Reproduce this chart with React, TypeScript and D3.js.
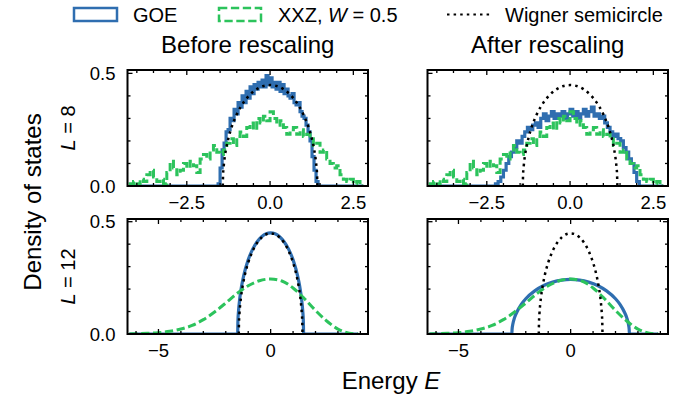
import React from "react";
import * as d3 from "d3";

// ---------------- DATA ----------------
// energy window covered by the histograms (baseline extent)
const topDataRange = [-4.2, 2.8];
const bottomDataRange = [-6.3, 3.9];

// L = 8, GOE, before rescaling (step histogram)
const goeL8Start = -1.56;
const goeL8Bin = 0.06;
const goeL8 = [0.01, 0.08, 0.16, 0.19, 0.24, 0.25, 0.3, 0.29, 0.34, 0.32, 0.37, 0.35, 0.4, 0.37, 0.42, 0.39, 0.44, 0.41, 0.45, 0.43, 0.46, 0.44, 0.47, 0.44, 0.49, 0.45, 0.48, 0.44, 0.46, 0.43, 0.46, 0.42, 0.45, 0.41, 0.43, 0.4, 0.39, 0.41, 0.37, 0.36, 0.37, 0.33, 0.31, 0.3, 0.27, 0.24, 0.2, 0.13, 0.07, 0.02, 0.0];

// L = 8, GOE, after rescaling
const goeL8ResStart = -2.24;
const goeL8ResBin = 0.08;
const goeL8Rescaled = [0.01, 0.02, 0.04, 0.07, 0.1, 0.13, 0.15, 0.17, 0.2, 0.19, 0.22, 0.24, 0.26, 0.25, 0.27, 0.28, 0.26, 0.3, 0.32, 0.29, 0.31, 0.33, 0.3, 0.32, 0.31, 0.33, 0.3, 0.32, 0.34, 0.31, 0.33, 0.3, 0.32, 0.34, 0.31, 0.33, 0.35, 0.31, 0.32, 0.3, 0.31, 0.28, 0.26, 0.24, 0.22, 0.23, 0.21, 0.2, 0.17, 0.15, 0.12, 0.1, 0.06, 0.02, 0.0];

// L = 8, XXZ W = 0.5
const xxzL8Start = -4.2;
const xxzL8Bin = 0.1;
const xxzL8 = [0.01, 0.02, 0.01, 0.03, 0.02, 0.05, 0.07, 0.04, 0.02, 0.03, 0.01, 0.06, 0.11, 0.08, 0.05, 0.07, 0.1, 0.08, 0.11, 0.09, 0.06, 0.12, 0.14, 0.12, 0.16, 0.18, 0.15, 0.14, 0.16, 0.19, 0.21, 0.18, 0.22, 0.24, 0.22, 0.26, 0.28, 0.25, 0.3, 0.28, 0.31, 0.29, 0.33, 0.3, 0.27, 0.29, 0.26, 0.23, 0.25, 0.26, 0.23, 0.25, 0.22, 0.23, 0.21, 0.18, 0.19, 0.15, 0.16, 0.12, 0.1, 0.08, 0.09, 0.05, 0.03, 0.02, 0.03, 0.01, 0.02, 0.0];

// L = 12, GOE before rescaling
const goeL12E = [-6.3, -1.47, -1.46, -1.43, -1.38, -1.3, -1.2, -1.0, -0.8, -0.6, -0.4, -0.2, 0, 0.2, 0.4, 0.6, 0.8, 1.0, 1.2, 1.3, 1.38, 1.43, 1.46, 1.47, 3.9];
const goeL12Rho = [0, 0, 0.052, 0.104, 0.155, 0.21, 0.26, 0.33, 0.378, 0.411, 0.433, 0.446, 0.45, 0.446, 0.433, 0.411, 0.378, 0.33, 0.26, 0.21, 0.155, 0.104, 0.052, 0, 0];

// L = 12, GOE after rescaling
const goeL12ResE = [-6.3, -2.62, -2.61, -2.58, -2.5, -2.4, -2.2, -2.0, -1.6, -1.2, -0.8, -0.4, 0, 0.4, 0.8, 1.2, 1.6, 2.0, 2.2, 2.4, 2.5, 2.58, 2.61, 2.62, 3.9];
const goeL12ResRho = [0, 0, 0.021, 0.042, 0.073, 0.097, 0.132, 0.157, 0.192, 0.216, 0.231, 0.24, 0.243, 0.24, 0.231, 0.216, 0.192, 0.157, 0.132, 0.097, 0.073, 0.042, 0.021, 0, 0];

// L = 12, XXZ W = 0.5
const xxzL12E = [-6.3, -6.0, -5.5, -5.0, -4.5, -4.0, -3.5, -3.0, -2.5, -2.0, -1.5, -1.0, -0.5, 0.0, 0.5, 1.0, 1.5, 2.0, 2.5, 3.0, 3.5, 3.9];
const xxzL12Rho = [0, 0.001, 0.003, 0.006, 0.012, 0.022, 0.038, 0.064, 0.098, 0.138, 0.18, 0.215, 0.237, 0.245, 0.236, 0.205, 0.158, 0.105, 0.058, 0.022, 0.004, 0];

// Wigner semicircle
const wignerE = [-1.42, -1.41, -1.39, -1.36, -1.32, -1.25, -1.15, -1.0, -0.8, -0.6, -0.4, -0.2, 0, 0.2, 0.4, 0.6, 0.8, 1.0, 1.15, 1.25, 1.32, 1.36, 1.39, 1.41, 1.42];
const wignerRho = [0, 0.053, 0.091, 0.129, 0.165, 0.212, 0.263, 0.318, 0.37, 0.406, 0.43, 0.444, 0.448, 0.444, 0.43, 0.406, 0.37, 0.318, 0.263, 0.212, 0.165, 0.129, 0.091, 0.053, 0];

// axes
const topXDomain = [-4.28, 2.94];
const bottomXDomain = [-6.38, 4.34];
const yDomainTop = [0, 0.515];
const yDomainBottom = [0, 0.512];
const topMajorX = [-2.5, 0, 2.5];
const topMinorX = [-4, -3.5, -3, -2, -1.5, -1, -0.5, 0.5, 1, 1.5, 2];
const bottomMajorX = [-5, 0];
const bottomMinorX = [-6, -4, -3, -2, -1, 1, 2, 3, 4];
const majorY = [0, 0.5];
const minorY = [0.1, 0.2, 0.3, 0.4];
const titles = ["Before rescaling", "After rescaling"];
const rowLabels = ["8", "12"];

// ---------------- STYLE ----------------
const FONT = "'Liberation Sans', Arial, Helvetica, sans-serif";
const BLUE = "#2f6eb0";
const GREEN = "#2cc35c";
const TICK_FS = 18.5;

type Series =
  | { kind: "hist"; start: number; bin: number; values: number[]; range: number[]; color: string; dash?: string; width: number }
  | { kind: "curve"; E: number[]; rho: number[]; color: string; dash?: string; width: number };

function histPoints(s: { start: number; bin: number; values: number[]; range: number[] }): [number, number][] {
  const n = s.values.length;
  const pts: [number, number][] = [[s.range[0], 0], [s.start, 0]];
  s.values.forEach((v, i) => pts.push([s.start + i * s.bin, v]));
  const end = s.start + n * s.bin;
  pts.push([end, s.values[n - 1]]);
  pts.push([end, 0]);
  pts.push([s.range[1], 0]);
  return pts;
}

function Panel(props: {
  id: string; x0: number; x1: number; y0: number; y1: number;
  xDomain: number[]; yDomain: number[]; majorX: number[]; minorX: number[];
  fmtX: (v: number) => string; showY: boolean; series: Series[];
}) {
  const { id, x0, x1, y0, y1 } = props;
  const xs = d3.scaleLinear().domain(props.xDomain).range([x0, x1]);
  const ys = d3.scaleLinear().domain(props.yDomain).range([y1, y0]);
  const majL = 5, minL = 3;
  const paths = props.series.map((s, i) => {
    let d: string | null;
    if (s.kind === "hist") {
      d = d3.line<[number, number]>().x(p => xs(p[0])).y(p => ys(p[1])).curve(d3.curveStepAfter)(histPoints(s));
    } else {
      const pts = s.E.map((e, k) => [e, s.rho[k]] as [number, number]);
      d = d3.line<[number, number]>().x(p => xs(p[0])).y(p => ys(p[1])).curve(d3.curveMonotoneX)(pts);
    }
    return (
      <path key={i} d={d || ""} fill="none" stroke={s.color} strokeWidth={s.width}
        strokeDasharray={s.dash} strokeLinecap="butt" strokeLinejoin="miter" />
    );
  });
  const tickStroke = { stroke: "#000", strokeWidth: 1.3 };
  return (
    <g>
      <defs>
        <clipPath id={id}><rect x={x0} y={y0} width={x1 - x0} height={y1 - y0} /></clipPath>
      </defs>
      <g clipPath={`url(#${id})`}>{paths}</g>
      {props.majorX.map(v => (
        <g key={"mx" + v}>
          <line x1={xs(v)} x2={xs(v)} y1={y1} y2={y1 - majL} {...tickStroke} />
          <line x1={xs(v)} x2={xs(v)} y1={y0} y2={y0 + majL} {...tickStroke} />
          <text x={xs(v)} y={y1 + 23} textAnchor="middle" fontSize={TICK_FS} fontFamily={FONT}>{props.fmtX(v)}</text>
        </g>
      ))}
      {props.minorX.map(v => (
        <g key={"nx" + v}>
          <line x1={xs(v)} x2={xs(v)} y1={y1} y2={y1 - minL} {...tickStroke} />
          <line x1={xs(v)} x2={xs(v)} y1={y0} y2={y0 + minL} {...tickStroke} />
        </g>
      ))}
      {majorY.map(v => (
        <g key={"my" + v}>
          <line x1={x0} x2={x0 + majL} y1={ys(v)} y2={ys(v)} {...tickStroke} />
          <line x1={x1} x2={x1 - majL} y1={ys(v)} y2={ys(v)} {...tickStroke} />
          {props.showY && (
            <text x={x0 - 12} y={ys(v) + 6.5} textAnchor="end" fontSize={TICK_FS} fontFamily={FONT}>{d3.format(".1f")(v)}</text>
          )}
        </g>
      ))}
      {minorY.map(v => (
        <g key={"ny" + v}>
          <line x1={x0} x2={x0 + minL} y1={ys(v)} y2={ys(v)} {...tickStroke} />
          <line x1={x1} x2={x1 - minL} y1={ys(v)} y2={ys(v)} {...tickStroke} />
        </g>
      ))}
      <rect x={x0} y={y0} width={x1 - x0} height={y1 - y0} fill="none" stroke="#000" strokeWidth={2} />
    </g>
  );
}

const fmtTop = (v: number) => (v < 0 ? "\u2212" : "") + d3.format(".1f")(Math.abs(v));
const fmtBottom = (v: number) => (v < 0 ? "\u2212" : "") + d3.format("d")(Math.abs(v));

export default function App() {
  const dotted = "2.5 4.1";
  const dashed = "8.3 3.6";
  const wigner: Series = { kind: "curve", E: wignerE, rho: wignerRho, color: "#000", dash: dotted, width: 2.5 };
  const xxzTop: Series = { kind: "hist", start: xxzL8Start, bin: xxzL8Bin, values: xxzL8, range: topDataRange, color: GREEN, dash: dashed, width: 3 };
  const xxzBottom: Series = { kind: "curve", E: xxzL12E, rho: xxzL12Rho, color: GREEN, dash: dashed, width: 3 };

  const L = { x0: 127.5, x1: 368 };
  const R = { x0: 427.5, x1: 668 };
  const T = { y0: 70, y1: 186 };
  const B = { y0: 219, y1: 334 };

  return (
    <svg width={695} height={397} style={{ position: "absolute", left: 0, top: 0, background: "#fff" }} fontFamily={FONT}>
      <rect width={695} height={397} fill="#fff" />
      {/* legend */}
      <rect x={74} y={8} width={43} height={13} fill="none" stroke={BLUE} strokeWidth={2.5} />
      <text x={133} y={21.5} fontSize={20}>GOE</text>
      <rect x={219} y={8} width={42} height={13} fill="none" stroke={GREEN} strokeWidth={2.5} strokeDasharray={dashed} />
      <text x={278} y={21.5} fontSize={20}>XXZ, <tspan fontStyle="italic">W</tspan> = 0.5</text>
      <line x1={447} x2={490} y1={14.5} y2={14.5} stroke="#000" strokeWidth={2.2} strokeDasharray={dotted} />
      <text x={505} y={21.5} fontSize={20}>Wigner semicircle</text>

      {/* column titles */}
      <text x={(L.x0 + L.x1) / 2} y={53} textAnchor="middle" fontSize={24}>{titles[0]}</text>
      <text x={(R.x0 + R.x1) / 2} y={53} textAnchor="middle" fontSize={24}>{titles[1]}</text>

      <Panel id="cTL" {...L} {...T} xDomain={topXDomain} yDomain={yDomainTop} majorX={topMajorX} minorX={topMinorX} fmtX={fmtTop} showY={true}
        series={[{ kind: "hist", start: goeL8Start, bin: goeL8Bin, values: goeL8, range: topDataRange, color: BLUE, width: 3.2 }, xxzTop, wigner]} />
      <Panel id="cTR" {...R} {...T} xDomain={topXDomain} yDomain={yDomainTop} majorX={topMajorX} minorX={topMinorX} fmtX={fmtTop} showY={false}
        series={[{ kind: "hist", start: goeL8ResStart, bin: goeL8ResBin, values: goeL8Rescaled, range: topDataRange, color: BLUE, width: 3.2 }, xxzTop, wigner]} />
      <Panel id="cBL" {...L} {...B} xDomain={bottomXDomain} yDomain={yDomainBottom} majorX={bottomMajorX} minorX={bottomMinorX} fmtX={fmtBottom} showY={true}
        series={[{ kind: "curve", E: goeL12E, rho: goeL12Rho, color: BLUE, width: 3.2 }, xxzBottom, wigner]} />
      <Panel id="cBR" {...R} {...B} xDomain={bottomXDomain} yDomain={yDomainBottom} majorX={bottomMajorX} minorX={bottomMinorX} fmtX={fmtBottom} showY={false}
        series={[{ kind: "curve", E: goeL12ResE, rho: goeL12ResRho, color: BLUE, width: 3.2 }, xxzBottom, wigner]} />

      {/* row labels */}
      <text transform={`translate(75,${(T.y0 + T.y1) / 2}) rotate(-90)`} textAnchor="middle" fontSize={20}>
        <tspan fontStyle="italic">L</tspan> = {rowLabels[0]}
      </text>
      <text transform={`translate(75,${(B.y0 + B.y1) / 2}) rotate(-90)`} textAnchor="middle" fontSize={20}>
        <tspan fontStyle="italic">L</tspan> = {rowLabels[1]}
      </text>

      {/* axis labels */}
      <text transform={`translate(41,${(T.y0 + B.y1) / 2}) rotate(-90)`} textAnchor="middle" fontSize={24}>Density of states</text>
      <text x={391} y={389} textAnchor="middle" fontSize={24}>Energy <tspan fontStyle="italic">E</tspan></text>
    </svg>
  );
}
